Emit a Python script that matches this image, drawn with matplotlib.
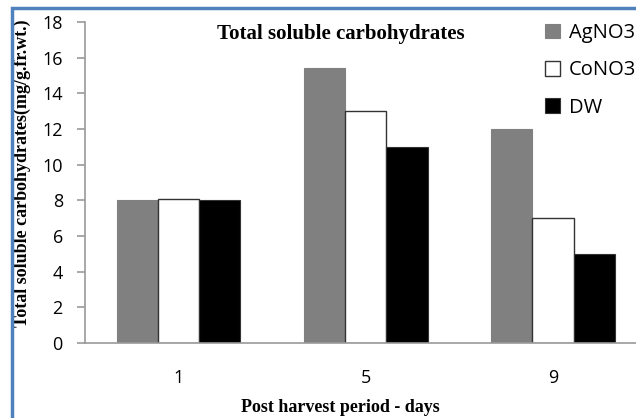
import matplotlib.pyplot as plt
from matplotlib.patches import Rectangle
import numpy as np

days = ['1', '5', '9']
agno3 = [8.0, 15.4, 12.0]
cono3 = [8.05, 13.0, 7.0]
dw = [8.0, 11.0, 5.0]

serif = ['Liberation Serif', 'DejaVu Serif']
sans = ['Open Sans', 'DejaVu Sans']

fig = plt.figure(figsize=(6.36, 4.18), dpi=100)
ax = fig.add_axes([85 / 636, 75 / 418, 561.5 / 636, 321 / 418])

x = np.arange(len(days))
w = 0.22
ax.bar(x - w, agno3, w, color='#808080', edgecolor='#808080', lw=0.8, label='AgNO3')
ax.bar(x, cono3, w, color='white', edgecolor='#333333', lw=1.0, label='CoNO3')
ax.bar(x + w, dw, w, color='black', edgecolor='#333333', lw=0.8, label='DW')

ax.set_xlim(-0.5, 2.5)
ax.set_ylim(0, 18)
ax.set_yticks(range(0, 19, 2))
ax.set_xticks(x)
ax.set_xticklabels(days)
for s in ['top', 'right']:
    ax.spines[s].set_visible(False)
for s in ['left', 'bottom']:
    ax.spines[s].set_color('#9a9a9a')
    ax.spines[s].set_linewidth(1.2)
ax.tick_params(axis='y', colors='#9a9a9a', length=6, width=1.2, labelcolor='black', pad=10)
ax.tick_params(axis='x', length=0, pad=19)
for lab in ax.get_xticklabels() + ax.get_yticklabels():
    lab.set_family(sans)
    lab.set_fontsize(13)

ax.set_title('Total soluble carbohydrates', family=serif, fontweight='bold',
             fontsize=15, x=(341 - 85) / 561.5, y=0.92)
fig.text(340 / 636, 1 - 407 / 418, 'Post harvest period - days', family=serif,
         fontweight='bold', fontsize=13, ha='center', va='center')
fig.text(22 / 636, 1 - 173 / 418, 'Total soluble carbohydrates(mg/g.fr.wt.)', family=serif,
         fontweight='bold', fontsize=13, ha='center', va='center', rotation=90)

leg = ax.legend(loc='upper left', bbox_to_anchor=(537 / 636, 1 - 15 / 418),
                bbox_transform=fig.transFigure, frameon=False,
                prop={'family': sans, 'size': 14.5}, handlelength=0.75, handleheight=0.75,
                handletextpad=0.45, labelspacing=0.86, borderaxespad=0)

fig.patches.append(Rectangle((12 / 636, -0.1), 1.0, 1 - 8 / 418 + 0.1, transform=fig.transFigure,
                             fill=False, edgecolor='#4f81bd', lw=2.5, zorder=10))

fig.savefig('out.png', dpi=100)
